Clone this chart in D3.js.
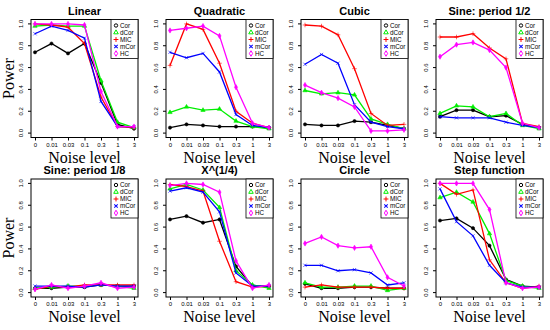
<!DOCTYPE html>
<html>
<head>
<meta charset="utf-8">
<script src="https://cdn.jsdelivr.net/npm/d3@7"></script>
<style>
  body { margin: 0; background: #fff; }
  svg { display: block; }
</style>
</head>
<body>
<div id="chart"></div>
<script>
// noise levels on the x axis (equally spaced)
var noiseLabels = ["0", "0.01", "0.03", "0.1", "0.3", "1", "3"];
var methods = ["Cor", "dCor", "MIC", "mCor", "HC"];
var colors = ["#000000", "#00ee00", "#ff0000", "#0000ff", "#ff00ff"];
var yTicks = [0, 0.2, 0.4, 0.6, 0.8, 1.0];

var titles = ["Linear", "Quadratic", "Cubic", "Sine: period 1/2",
              "Sine: period 1/8", "X^(1/4)", "Circle", "Step function"];

// power values, one row per method (Cor, dCor, MIC, mCor, HC)
var linear = [
	[0.74, 0.82, 0.73, 0.82, 0.46, 0.08, 0.04],
	[0.98, 0.99, 0.98, 0.98, 0.48, 0.10, 0.05],
	[1.00, 0.99, 0.97, 0.82, 0.33, 0.06, 0.05],
	[0.91, 0.98, 0.94, 0.87, 0.29, 0.06, 0.06],
	[1.00, 1.00, 1.00, 0.99, 0.38, 0.06, 0.06]
];
var quadratic = [
	[0.05, 0.08, 0.07, 0.06, 0.06, 0.06, 0.05],
	[0.19, 0.24, 0.21, 0.22, 0.11, 0.06, 0.04],
	[0.62, 1.00, 0.95, 0.64, 0.20, 0.09, 0.05],
	[0.74, 0.69, 0.73, 0.56, 0.17, 0.07, 0.05],
	[0.94, 0.96, 0.98, 0.89, 0.42, 0.09, 0.05]
];
var cubic = [
	[0.08, 0.07, 0.07, 0.11, 0.10, 0.07, 0.04],
	[0.39, 0.36, 0.37, 0.35, 0.13, 0.08, 0.04],
	[0.99, 0.98, 0.90, 0.59, 0.18, 0.07, 0.08],
	[0.63, 0.72, 0.64, 0.26, 0.10, 0.06, 0.04],
	[0.44, 0.37, 0.32, 0.24, 0.02, 0.02, 0.03]
];
var sineHalf = [
	[0.15, 0.21, 0.21, 0.15, 0.16, 0.08, 0.05],
	[0.18, 0.25, 0.24, 0.15, 0.18, 0.07, 0.04],
	[0.88, 0.88, 0.91, 0.78, 0.68, 0.09, 0.06],
	[0.15, 0.14, 0.14, 0.14, 0.10, 0.07, 0.05],
	[0.70, 0.81, 0.83, 0.76, 0.60, 0.09, 0.05]
];
var sineEighth = [
	[0.04, 0.04, 0.05, 0.05, 0.07, 0.06, 0.06],
	[0.04, 0.05, 0.06, 0.06, 0.07, 0.06, 0.04],
	[0.03, 0.06, 0.05, 0.07, 0.07, 0.07, 0.07],
	[0.06, 0.06, 0.06, 0.05, 0.07, 0.06, 0.06],
	[0.03, 0.07, 0.04, 0.06, 0.09, 0.04, 0.05]
];
var quarterRoot = [
	[0.67, 0.70, 0.64, 0.67, 0.24, 0.06, 0.06],
	[0.95, 0.99, 0.94, 0.78, 0.20, 0.07, 0.04],
	[0.99, 0.97, 0.93, 0.47, 0.10, 0.05, 0.06],
	[0.93, 0.96, 0.92, 0.74, 0.18, 0.06, 0.06],
	[0.98, 1.00, 0.99, 0.92, 0.29, 0.04, 0.07]
];
var circle = [
	[0.08, 0.04, 0.04, 0.05, 0.05, 0.04, 0.04],
	[0.09, 0.05, 0.05, 0.06, 0.06, 0.02, 0.04],
	[0.05, 0.07, 0.05, 0.05, 0.05, 0.04, 0.04],
	[0.25, 0.25, 0.20, 0.21, 0.18, 0.07, 0.09],
	[0.45, 0.51, 0.43, 0.41, 0.42, 0.14, 0.06]
];
var step = [
	[0.66, 0.68, 0.59, 0.43, 0.12, 0.06, 0.05],
	[0.87, 0.92, 0.83, 0.54, 0.11, 0.06, 0.04],
	[1.00, 0.90, 0.94, 0.30, 0.09, 0.04, 0.06],
	[0.95, 0.65, 0.52, 0.25, 0.09, 0.05, 0.05],
	[1.00, 1.00, 1.00, 0.76, 0.09, 0.04, 0.05]
];
var panels = [linear, quadratic, cubic, sineHalf, sineEighth, quarterRoot, circle, step];

var symbols = [d3.symbolCircle, d3.symbolTriangle, d3.symbolPlus, d3.symbolPlus, d3.symbolDiamond];

var W = 550, H = 330;
var boxW = 107, boxH = 118;
var lefts = [31, 166, 301, 436];
var tops = [19.5, 179];

var svg = d3.select("#chart").append("svg")
	.attr("width", W)
	.attr("height", H);

var x = d3.scaleLinear().domain([0, 6]).range([4, boxW - 4]);
var y = d3.scaleLinear().domain([0, 1]).range([boxH - 4.4, 4.4]);

var line = d3.line()
	.x(function(d, i) { return x(i); })
	.y(function(d) { return y(d); });

function marker(k, size) {
	return d3.symbol(symbols[k], size)();
}

panels.forEach(function(data, p) {
	var col = p % 4, row = Math.floor(p / 4);
	var g = svg.append("g")
		.attr("transform", "translate(" + lefts[col] + "," + tops[row] + ")");

	g.append("text")
		.attr("x", boxW / 2)
		.attr("y", -5)
		.attr("text-anchor", "middle")
		.attr("font-family", "Liberation Sans, Arial, sans-serif")
		.attr("font-weight", "bold")
		.attr("font-size", 11)
		.text(titles[p]);

	var xa = g.append("g")
		.attr("transform", "translate(0," + boxH + ")")
		.call(d3.axisBottom(x).tickValues(d3.range(7)).tickSize(3).tickPadding(2)
			.tickFormat(function(i) { return noiseLabels[i]; }));
	xa.select(".domain").remove();
	xa.selectAll("text").attr("font-size", 6).attr("font-family", "Liberation Sans, Arial, sans-serif");

	var ya = g.append("g")
		.call(d3.axisLeft(y).tickValues(yTicks).tickSize(3).tickPadding(2)
			.tickFormat(d3.format(".1f")));
	ya.select(".domain").remove();
	ya.selectAll("text")
		.attr("font-size", 6)
		.attr("font-family", "Liberation Sans, Arial, sans-serif")
		.attr("text-anchor", "middle")
		.attr("transform", "rotate(-90)")
		.attr("x", function(d) { return -y(d); })
		.attr("y", -8)
		.attr("dy", 0);
	ya.selectAll(".tick").attr("transform", "translate(0,0)");
	ya.selectAll(".tick line").attr("y1", function(d) { return y(d); }).attr("y2", function(d) { return y(d); });

	g.append("rect")
		.attr("width", boxW)
		.attr("height", boxH)
		.attr("fill", "none")
		.attr("stroke", "#000")
		.attr("stroke-width", 1);

	data.forEach(function(vals, k) {
		g.append("path")
			.datum(vals)
			.attr("fill", "none")
			.attr("stroke", colors[k])
			.attr("stroke-width", 1.3)
			.attr("d", line);
		g.selectAll(".pt" + k)
			.data(vals)
			.enter().append("path")
			.attr("transform", function(d, i) { return "translate(" + x(i) + "," + y(d) + ")" + (k === 3 ? " rotate(45)" : ""); })
			.attr("d", marker(k, 8))
			.attr("fill", colors[k])
			.attr("stroke", colors[k])
			.attr("stroke-width", 0.6);
	});

	// legend
	var lw = 27, lh = 39;
	var lg = g.append("g").attr("transform", "translate(" + (boxW - lw) + ",0)");
	lg.append("rect")
		.attr("width", lw)
		.attr("height", lh)
		.attr("fill", "#fff")
		.attr("stroke", "#000")
		.attr("stroke-width", 0.8);
	methods.forEach(function(m, k) {
		var yy = 6 + k * 7;
		lg.append("path")
			.attr("transform", "translate(5," + yy + ")" + (k === 3 ? " rotate(45)" : ""))
			.attr("d", marker(k, 9))
			.attr("fill", k === 0 || k === 1 || k === 4 ? "none" : colors[k])
			.attr("stroke", colors[k])
			.attr("stroke-width", 1);
		lg.append("text")
			.attr("x", 9)
			.attr("y", yy + 2.2)
			.attr("font-size", 6.3)
			.attr("font-family", "Liberation Sans, Arial, sans-serif")
			.text(m);
	});

	g.append("text")
		.attr("x", boxW / 2)
		.attr("y", boxH + 25)
		.attr("text-anchor", "middle")
		.attr("font-family", "Liberation Serif, Times New Roman, serif")
		.attr("font-size", 16)
		.text("Noise level");

	if (col === 0) {
		g.append("text")
			.attr("transform", "translate(-17," + (boxH / 2) + ") rotate(-90)")
			.attr("text-anchor", "middle")
			.attr("font-family", "Liberation Serif, Times New Roman, serif")
			.attr("font-size", 16)
			.text("Power");
	}
});
</script>
</body>
</html>
